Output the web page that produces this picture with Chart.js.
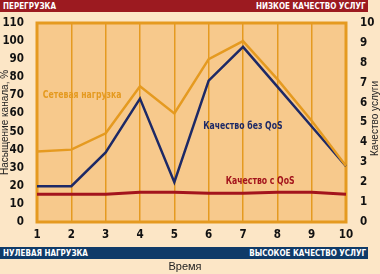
<!DOCTYPE html>
<html>
<head>
<meta charset="utf-8">
<script src="https://cdn.jsdelivr.net/npm/chart.js@4.4.0/dist/chart.umd.min.js"></script>
<style>
    html, body { margin: 0; padding: 0; background: #fce6c6; }
    #wrap { position: relative; width: 380px; height: 274px; overflow: hidden; }
    #chart { position: absolute; left: 0; top: 0; }
    .bar {
        position: absolute; left: 0; width: 368px; height: 12px;
        color: #fff; font: bold 9.5px 'Liberation Sans Narrow', 'DejaVu Sans Condensed', sans-serif;
        line-height: 12px;
    }
    .bar span { position: absolute; top: 0; transform: scaleX(0.84); white-space: nowrap; }
    .bar .l { left: 3px; transform-origin: left center; }
    .bar .r { right: 2px; transform-origin: right center; }
    #top { top: 0; background: #9c1a20; }
    #bottom { top: 247px; background: #0f3a68; }
</style>
</head>
<body>
<div id="wrap">
    <canvas id="chart" width="380" height="274"></canvas>
    <div class="bar" id="top"><span class="l">ПЕРЕГРУЗКА</span><span class="r">НИЗКОЕ КАЧЕСТВО УСЛУГ</span></div>
    <div class="bar" id="bottom"><span class="l">НУЛЕВАЯ НАГРУЗКА</span><span class="r">ВЫСОКОЕ КАЧЕСТВО УСЛУГ</span></div>
</div>
<script>
// time steps
const labels = ['1', '2', '3', '4', '5', '6', '7', '8', '9', '10'];
// network load, % (left axis)
const networkLoad = [39, 40, 49, 75, 60, 90, 100, 79, 56, 31];
// quality of service, 0..10 (right axis)
const qualityNoQos = [1.8, 1.8, 3.5, 6.2, 2.0, 7.1, 8.8, 6.8, 4.8, 2.8];
const qualityQos = [1.4, 1.4, 1.4, 1.5, 1.5, 1.45, 1.45, 1.5, 1.5, 1.4];

const ORANGE = '#e59a20';
const NAVY = '#1d2966';
const RED = '#a3141c';
const narrow = "'Liberation Sans Narrow', 'DejaVu Sans Condensed', sans-serif";

document.addEventListener("DOMContentLoaded", function() {
    const ctx = document.getElementById("chart");

    // draws squeezed text, a bit like the narrow bold face of the original
    function label(c, text, x, y, align) {
        const sx = 0.86;
        c.save();
        c.translate(x, y);
        c.scale(sx, 1);
        c.textAlign = align;
        c.fillText(text, 0, 0);
        c.restore();
    }

    const decor = {
        id: 'decor',
        beforeDraw(chart) {
            const { ctx, chartArea: a } = chart;
            ctx.save();
            ctx.fillStyle = '#f7c98c';
            ctx.fillRect(a.left, a.top, a.right - a.left, a.bottom - a.top);
            ctx.restore();
        },
        beforeDatasetsDraw(chart) {
            const { ctx, chartArea: a } = chart;
            ctx.save();
            ctx.strokeStyle = ORANGE;
            ctx.lineWidth = 3;
            ctx.strokeRect(a.left, a.top, a.right - a.left, a.bottom - a.top);
            ctx.restore();
        },
        afterDraw(chart) {
            const { ctx, chartArea: a, scales } = chart;
            const x = scales.x, yl = scales.yLeft, yr = scales.yRight;
            const mid = (a.top + a.bottom) / 2;
            ctx.save();
            ctx.textBaseline = 'middle';

            // axis titles
            ctx.fillStyle = '#222';
            ctx.font = "10px 'Liberation Sans', Arial, sans-serif";
            ctx.textAlign = 'center';
            ctx.save();
            ctx.translate(5, mid);
            ctx.rotate(-Math.PI / 2);
            ctx.fillText('Насыщение канала, %', 0, 0);
            ctx.restore();
            ctx.save();
            ctx.translate(375, mid - 4);
            ctx.rotate(-Math.PI / 2);
            ctx.fillText('Качество услуги', 0, 0);
            ctx.restore();
            ctx.font = "11px 'Liberation Sans', Arial, sans-serif";
            ctx.fillText('Время', 185, 267);

            // series labels
            ctx.font = 'bold 10px ' + narrow;
            ctx.fillStyle = ORANGE;
            label(ctx, 'Сетевая нагрузка', x.getPixelForValue(0.17), yl.getPixelForValue(70), 'left');
            ctx.fillStyle = NAVY;
            label(ctx, 'Качество без QoS', x.getPixelForValue(4.84), yr.getPixelForValue(4.78), 'left');
            ctx.fillStyle = RED;
            label(ctx, 'Качество с QoS', x.getPixelForValue(6.5), yr.getPixelForValue(2.05), 'center');
            ctx.restore();
        }
    };

    const tickFont = { family: narrow, size: 11.5, weight: 'bold' };

    new Chart(ctx, {
        type: 'line',
        data: {
            labels,
            datasets: [{
                label: 'Сетевая нагрузка',
                data: networkLoad,
                yAxisID: 'yLeft',
                borderColor: ORANGE,
                borderWidth: 2.5
            }, {
                label: 'Качество без QoS',
                data: qualityNoQos,
                yAxisID: 'yRight',
                borderColor: NAVY,
                borderWidth: 2.5
            }, {
                label: 'Качество с QoS',
                data: qualityQos,
                yAxisID: 'yRight',
                borderColor: RED,
                borderWidth: 3
            }]
        },
        options: {
            responsive: false,
            animation: false,
            devicePixelRatio: 1,
            elements: {
                point: { radius: 0 },
                line: { tension: 0, borderJoinStyle: 'miter' }
            },
            layout: { padding: { top: 23, left: 0, right: 0, bottom: 0 } },
            plugins: {
                legend: { display: false },
                tooltip: { enabled: false }
            },
            scales: {
                x: {
                    offset: false,
                    grid: { display: true, color: ORANGE, lineWidth: 1.5, drawTicks: false },
                    border: { display: false },
                    ticks: {
                        color: '#111',
                        padding: 6,
                        maxRotation: 0,
                        autoSkip: false,
                        font: tickFont
                    },
                    afterFit: s => { s.height = 52; }
                },
                yLeft: {
                    position: 'left',
                    min: 0,
                    max: 110,
                    grid: { display: false },
                    border: { display: false },
                    ticks: {
                        stepSize: 10,
                        autoSkip: false,
                        color: '#111',
                        padding: 5,
                        font: tickFont
                    },
                    afterFit: s => { s.width = 37; }
                },
                yRight: {
                    position: 'right',
                    min: 0,
                    max: 10,
                    grid: { display: false },
                    border: { display: false },
                    ticks: {
                        stepSize: 1,
                        autoSkip: false,
                        color: '#111',
                        padding: 6,
                        font: tickFont
                    },
                    afterFit: s => { s.width = 34; }
                }
            }
        },
        plugins: [decor]
    });
});
</script>
</body>
</html>
